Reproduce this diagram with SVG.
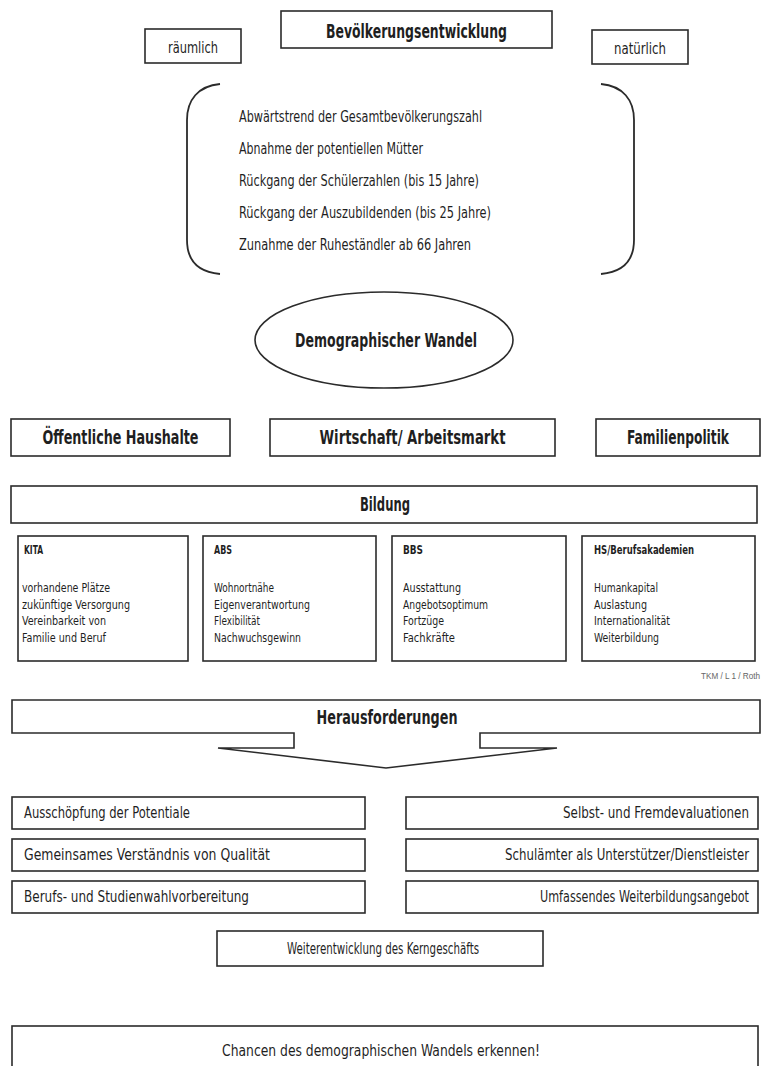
<svg xmlns="http://www.w3.org/2000/svg" width="763" height="1066" viewBox="0 0 763 1066">
<style>
.box{fill:#fff;stroke:#2b2b2b;stroke-width:1.6}
.ln{fill:none;stroke:#2b2b2b;stroke-width:1.8}
.t{font-family:"DejaVu Sans Condensed","DejaVu Sans",sans-serif;fill:#1f1f1f}
.b{font-weight:bold}
.c{text-anchor:middle}
.s20{font-size:20px}
.s17{font-size:17px}
.s16{font-size:16px}
.s15{font-size:15px}
.s12{font-size:12.5px}
.s13{font-size:12.5px}
</style>
<rect width="763" height="1066" fill="#fff"/>

<g id="bevoelkerungsentwicklung">
<rect class="box" x="281" y="11" width="271" height="37"/>
<text class="t b c s20" x="416.5" y="38" textLength="181" lengthAdjust="spacingAndGlyphs">Bevölkerungsentwicklung</text>
</g>
<g id="raeumlich">
<rect class="box" x="145" y="29" width="96" height="34"/>
<text class="t c s15" x="193" y="53" textLength="50" lengthAdjust="spacingAndGlyphs">räumlich</text>
</g>
<g id="natuerlich">
<rect class="box" x="592" y="30" width="96" height="34"/>
<text class="t c s15" x="640" y="54" textLength="52" lengthAdjust="spacingAndGlyphs">natürlich</text>
</g>

<g id="trends">
<path class="ln" d="M220,84 C198,86 187,100 187,120 V240 C187,260 198,272 220,274"/>
<path class="ln" d="M601,84 C623,86 634,100 634,120 V240 C634,260 623,272 601,274"/>
<text class="t s16" x="239" y="122" textLength="243" lengthAdjust="spacingAndGlyphs">Abwärtstrend der Gesamtbevölkerungszahl</text>
<text class="t s16" x="239" y="154" textLength="184" lengthAdjust="spacingAndGlyphs">Abnahme der potentiellen Mütter</text>
<text class="t s16" x="239" y="186" textLength="240" lengthAdjust="spacingAndGlyphs">Rückgang der Schülerzahlen (bis 15 Jahre)</text>
<text class="t s16" x="239" y="218" textLength="252" lengthAdjust="spacingAndGlyphs">Rückgang der Auszubildenden (bis 25 Jahre)</text>
<text class="t s16" x="239" y="250" textLength="232" lengthAdjust="spacingAndGlyphs">Zunahme der Ruheständler ab 66 Jahren</text>
</g>

<g id="demographischer-wandel">
<ellipse class="box" cx="384" cy="340" rx="129" ry="48"/>
<text class="t b c s20" x="386" y="347" textLength="182" lengthAdjust="spacingAndGlyphs">Demographischer Wandel</text>
</g>

<g id="haushalte">
<rect class="box" x="11" y="419" width="219" height="37"/>
<text class="t b c s20" x="120.5" y="444" textLength="156" lengthAdjust="spacingAndGlyphs">Öffentliche Haushalte</text>
</g>
<g id="wirtschaft">
<rect class="box" x="270" y="419" width="285" height="37"/>
<text class="t b c s20" x="412.5" y="444" textLength="186" lengthAdjust="spacingAndGlyphs">Wirtschaft/ Arbeitsmarkt</text>
</g>
<g id="familienpolitik">
<rect class="box" x="596" y="419" width="164" height="37"/>
<text class="t b s17" transform="translate(627,444) scale(1,1.17)" x="0" y="0" textLength="102" lengthAdjust="spacingAndGlyphs">Familienpolitik</text>
</g>

<g id="bildung">
<rect class="box" x="11" y="486" width="746" height="37"/>
<text class="t b c s20" x="385" y="511" textLength="50" lengthAdjust="spacingAndGlyphs">Bildung</text>
</g>

<g id="kita">
<rect class="box" x="18" y="536" width="170" height="125"/>
<text class="t b s13" x="24" y="554" textLength="19" lengthAdjust="spacingAndGlyphs">KITA</text>
<text class="t s13" x="22" y="592" textLength="88" lengthAdjust="spacingAndGlyphs">vorhandene Plätze</text>
<text class="t s13" x="22" y="608.5" textLength="108" lengthAdjust="spacingAndGlyphs">zukünftige Versorgung</text>
<text class="t s13" x="22" y="625" textLength="84" lengthAdjust="spacingAndGlyphs">Vereinbarkeit von</text>
<text class="t s13" x="22" y="641.5" textLength="84" lengthAdjust="spacingAndGlyphs">Familie und Beruf</text>
</g>
<g id="abs">
<rect class="box" x="203" y="536" width="173" height="125"/>
<text class="t b s13" x="214" y="554" textLength="18" lengthAdjust="spacingAndGlyphs">ABS</text>
<text class="t s13" x="214" y="592" textLength="60" lengthAdjust="spacingAndGlyphs">Wohnortnähe</text>
<text class="t s13" x="214" y="608.5" textLength="96" lengthAdjust="spacingAndGlyphs">Eigenverantwortung</text>
<text class="t s13" x="214" y="625" textLength="46" lengthAdjust="spacingAndGlyphs">Flexibilität</text>
<text class="t s13" x="214" y="641.5" textLength="87" lengthAdjust="spacingAndGlyphs">Nachwuchsgewinn</text>
</g>
<g id="bbs">
<rect class="box" x="392" y="536" width="174" height="125"/>
<text class="t b s13" x="403" y="554" textLength="20" lengthAdjust="spacingAndGlyphs">BBS</text>
<text class="t s13" x="403" y="592" textLength="58" lengthAdjust="spacingAndGlyphs">Ausstattung</text>
<text class="t s13" x="403" y="608.5" textLength="85" lengthAdjust="spacingAndGlyphs">Angebotsoptimum</text>
<text class="t s13" x="403" y="625" textLength="41" lengthAdjust="spacingAndGlyphs">Fortzüge</text>
<text class="t s13" x="403" y="641.5" textLength="52" lengthAdjust="spacingAndGlyphs">Fachkräfte</text>
</g>
<g id="hs">
<rect class="box" x="582" y="536" width="173" height="125"/>
<text class="t b s13" x="594" y="554" textLength="100" lengthAdjust="spacingAndGlyphs">HS/Berufsakademien</text>
<text class="t s13" x="594" y="592" textLength="64" lengthAdjust="spacingAndGlyphs">Humankapital</text>
<text class="t s13" x="594" y="608.5" textLength="53" lengthAdjust="spacingAndGlyphs">Auslastung</text>
<text class="t s13" x="594" y="625" textLength="76" lengthAdjust="spacingAndGlyphs">Internationalität</text>
<text class="t s13" x="594" y="641.5" textLength="65" lengthAdjust="spacingAndGlyphs">Weiterbildung</text>
</g>

<text transform="translate(701,679) scale(1,1.1)" x="0" y="0" font-family="Liberation Sans, Arial, sans-serif" font-size="8.3" fill="#666" textLength="59" lengthAdjust="spacingAndGlyphs">TKM / L 1 / Roth</text>

<g id="herausforderungen">
<path class="box" d="M12,700 H760 V733 H480 V748 H557 L386,768 L218,748 H294 V733 H12 Z"/>
<text class="t b c s20" x="387" y="724" textLength="141" lengthAdjust="spacingAndGlyphs">Herausforderungen</text>
</g>

<g id="potentiale">
<rect class="box" x="12" y="797" width="353" height="32"/>
<text class="t s15" x="24" y="818" textLength="166" lengthAdjust="spacingAndGlyphs">Ausschöpfung der Potentiale</text>
</g>
<g id="qualitaet">
<rect class="box" x="12" y="839" width="353" height="32"/>
<text class="t s15" x="24" y="860" textLength="246" lengthAdjust="spacingAndGlyphs">Gemeinsames Verständnis von Qualität</text>
</g>
<g id="berufswahl">
<rect class="box" x="12" y="881" width="353" height="32"/>
<text class="t s15" x="24" y="902" textLength="225" lengthAdjust="spacingAndGlyphs">Berufs- und Studienwahlvorbereitung</text>
</g>
<g id="evaluationen">
<rect class="box" x="406" y="797" width="352" height="32"/>
<text class="t s12" transform="translate(563,818) scale(1,1.2)" x="0" y="0" textLength="186" lengthAdjust="spacingAndGlyphs">Selbst- und Fremdevaluationen</text>
</g>
<g id="schulaemter">
<rect class="box" x="406" y="839" width="352" height="32"/>
<text class="t s12" transform="translate(505,860) scale(1,1.2)" x="0" y="0" textLength="244" lengthAdjust="spacingAndGlyphs">Schulämter als Unterstützer/Dienstleister</text>
</g>
<g id="weiterbildungsangebot">
<rect class="box" x="406" y="881" width="352" height="32"/>
<text class="t s12" transform="translate(540,902) scale(1,1.2)" x="0" y="0" textLength="209" lengthAdjust="spacingAndGlyphs">Umfassendes Weiterbildungsangebot</text>
</g>

<g id="kerngeschaeft">
<rect class="box" x="217" y="931" width="326" height="35"/>
<text class="t c s15" x="383" y="954" textLength="192" lengthAdjust="spacingAndGlyphs">Weiterentwicklung des Kerngeschäfts</text>
</g>

<g id="chancen">
<rect class="box" x="12" y="1026" width="746" height="50"/>
<text class="t c s16" x="381" y="1056" textLength="318" lengthAdjust="spacingAndGlyphs">Chancen des demographischen Wandels erkennen!</text>
</g>

<g id="connectors"></g>
</svg>
